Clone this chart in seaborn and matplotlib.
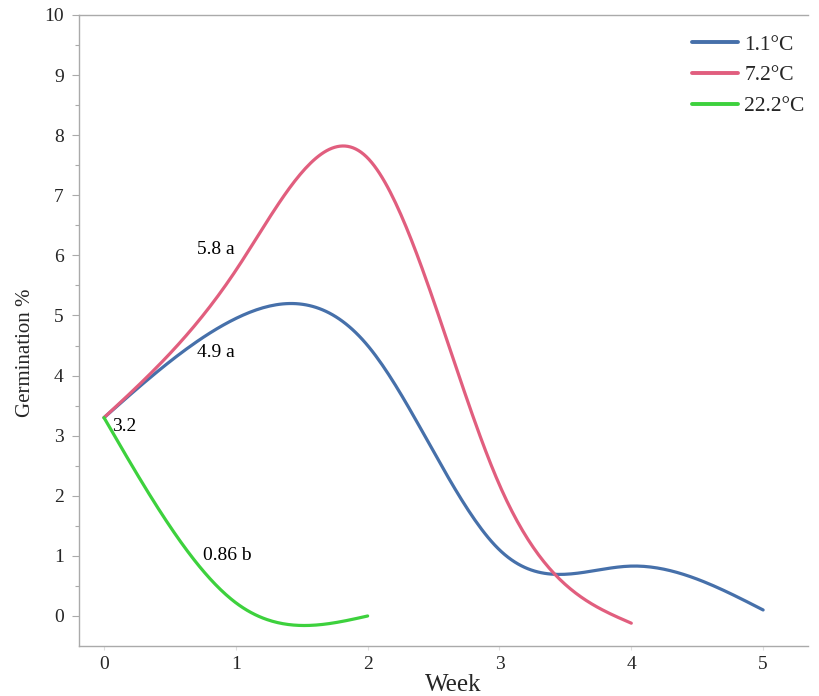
import numpy as np
import pandas as pd
import matplotlib
matplotlib.use("Agg")
import matplotlib.pyplot as plt
import seaborn as sns

weeks_cold = [0, 1, 2, 3, 4, 5]
germ_cold = [3.3, 4.95, 4.5, 1.1, 0.83, 0.1]
weeks_mid = [0, 1, 2, 3, 4]
germ_mid = [3.3, 5.75, 7.62, 2.18, -0.12]
weeks_warm = [0, 1, 2]
germ_warm = [3.3, 0.22, 0.0]
series_names = ["1.1°C", "7.2°C", "22.2°C"]
colors = ["#4670AA", "#E15E7E", "#3DD13D"]
ann_text = ["5.8 a", "4.9 a", "3.2", "0.86 b"]
ann_x = [0.85, 0.85, 0.06, 0.75]
ann_y = [6.09, 4.38, 3.16, 1.01]
ann_ha = ["center", "center", "left", "left"]


def natural_spline(x, y, n=200):
    x = np.asarray(x, float)
    y = np.asarray(y, float)
    k = len(x)
    h = np.diff(x)
    A = np.zeros((k, k))
    b = np.zeros(k)
    A[0, 0] = 1
    A[-1, -1] = 1
    for i in range(1, k - 1):
        A[i, i - 1] = h[i - 1]
        A[i, i] = 2 * (h[i - 1] + h[i])
        A[i, i + 1] = h[i]
        b[i] = 6 * ((y[i + 1] - y[i]) / h[i] - (y[i] - y[i - 1]) / h[i - 1])
    M = np.linalg.solve(A, b)
    xs = np.linspace(x[0], x[-1], n)
    ys = np.empty_like(xs)
    for j, xv in enumerate(xs):
        i = min(np.searchsorted(x, xv, side="right") - 1, k - 2)
        t0 = x[i + 1] - xv
        t1 = xv - x[i]
        hi = h[i]
        ys[j] = (M[i] * t0 ** 3 + M[i + 1] * t1 ** 3) / (6 * hi) \
            + (y[i] / hi - M[i] * hi / 6) * t0 + (y[i + 1] / hi - M[i + 1] * hi / 6) * t1
    return xs, ys


frames = []
for name, wx, gy in zip(series_names, [weeks_cold, weeks_mid, weeks_warm],
                        [germ_cold, germ_mid, germ_warm]):
    xs, ys = natural_spline(wx, gy)
    frames.append(pd.DataFrame({"Week": xs, "Germination": ys, "Temp": name}))
df = pd.concat(frames, ignore_index=True)

sns.set_style("white")
plt.rcParams["font.family"] = ["Liberation Serif", "DejaVu Serif"]

fig = plt.figure(figsize=(8.2, 6.96), dpi=100)
ax = fig.add_axes([0.0963, 0.0718, 0.889, 0.9067])

sns.lineplot(data=df, x="Week", y="Germination", hue="Temp", hue_order=series_names,
             palette=colors, linewidth=2.3, sort=False, estimator=None, ax=ax)

for t, x, y, ha in zip(ann_text, ann_x, ann_y, ann_ha):
    ax.text(x, y, t, ha=ha, va="center", fontsize=14, color="black")

ax.set_xlim(-0.19, 5.34)
ax.set_ylim(-0.5, 10)
ax.set_xticks(range(0, 6))
ax.set_yticks(range(0, 11))
ax.set_yticks(np.arange(0.5, 10, 1), minor=True)
ax.tick_params(axis="y", which="major", direction="out", length=5, width=0.8,
               color="#AAAAAA", labelsize=14, left=True, pad=6)
ax.tick_params(axis="y", which="minor", direction="out", length=3, width=0.8,
               color="#AAAAAA", left=True)
ax.tick_params(axis="x", which="major", direction="out", length=3, width=0.8,
               color="#DDDDDD", labelsize=14, bottom=True, pad=4)
ax.set_xlabel("Week", fontsize=18)
ax.set_ylabel("Germination %", fontsize=15)
ax.xaxis.set_label_coords(0.513, -0.045)
ax.yaxis.set_label_coords(-0.06, 0.464)

for s in ["left", "bottom", "top"]:
    ax.spines[s].set_visible(True)
    ax.spines[s].set_color("#AAAAAA")
    ax.spines[s].set_linewidth(1.0)
ax.spines["right"].set_visible(False)

leg = ax.legend(loc="upper right", frameon=False, fontsize=15.5, handlelength=2.1,
                handletextpad=0.3, labelspacing=0.5, borderaxespad=0.3,
                bbox_to_anchor=(1.016, 0.993))
for line in leg.get_lines():
    line.set_linewidth(2.8)

fig.savefig("out.png", dpi=100)
